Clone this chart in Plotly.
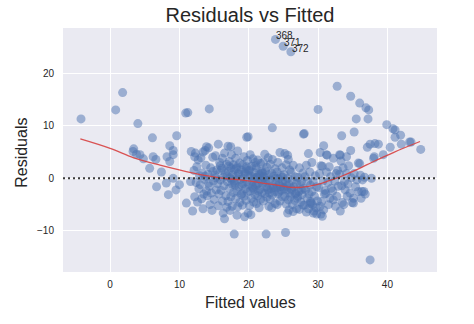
import plotly.graph_objects as go

# ---- data ----
# left tail (low fitted values)
fitted_left = [-4.2, 0.8, 1.8, 4.0, 3.4, 3.8, 4.8, 3.3, 4.3, 6.1, 6.2, 6.6, 5.7, 7.4, 6.7, 8.1, 8.4,
               8.6, 9.1, 8.2, 9.6, 9.5, 10.0, 9.1, 11.0, 10.9, 11.2, 11.7, 12.2, 11.6, 14.3, 13.9, 13.7,
               8.6, 9.1]
resid_left = [11.3, 13.0, 16.3, 10.4, 5.6, 4.6, 3.7, 5.1, 4.5, 7.7, 4.1, 3.6, 1.9, 1.2, -1.6, -0.9, -3.1,
              6.2, 5.3, 4.1, 8.1, -2.2, -1.2, 0.0, -4.7, 12.4, 12.5, 5.1, 4.1, -0.6, 13.2, 6.0, 5.3,
              3.2, 4.5]

# main cloud
fitted_core = [
    12.3, 12.7, 12.1, 12.9, 12.4, 12.8, 12.2, 12.6, 11.9, 12.5,
    13.4, 13.1, 13.8, 13.3, 13.6, 13.0, 13.9, 13.5, 13.2, 13.4, 13.7,
    14.2, 14.8, 14.5, 14.1, 14.9, 14.3, 14.6, 14.0, 14.4, 14.7, 14.8, 14.2,
    15.6, 15.2, 15.8, 15.4, 15.1, 15.9, 15.5, 15.3, 15.7, 15.0, 15.6, 15.2, 15.9,
    16.5, 16.2, 16.8, 16.1, 16.6, 16.3, 16.9, 16.4, 16.0, 16.7, 16.2, 16.8, 16.3, 16.5, 16.9, 16.0,
    17.0, 17.5, 17.2, 17.8, 17.4, 17.1, 17.7, 17.3, 17.9, 17.6, 17.2, 17.8, 17.4, 17.0, 17.6, 17.3, 17.9, 17.5, 17.1,
    18.4, 18.1, 18.7, 18.3, 18.9, 18.5, 18.2, 18.8, 18.0, 18.6, 18.3, 18.9, 18.1, 18.7, 18.4, 18.3, 17.9, 18.6, 18.0, 18.2,
    19.3, 19.8, 19.1, 19.6, 19.4, 19.9, 19.2, 19.7, 19.0, 19.5, 19.8, 19.3, 19.6, 19.1, 19.9, 19.4, 19.5, 19.2, 19.7, 19.0,
    20.2, 20.6, 20.9, 20.4, 20.1, 20.7, 20.3, 20.8, 20.5, 20.0, 20.6, 20.2, 20.9, 20.4, 20.7, 20.1, 20.3, 20.8, 20.5, 20.0, 20.7,
    21.3, 21.7, 21.1, 21.9, 21.5, 21.2, 21.8, 21.4, 21.0, 21.6, 21.9, 21.3, 21.7, 21.1, 21.5, 21.8, 21.2, 21.6, 21.4, 21.0,
    22.3, 22.8, 22.1, 22.6, 22.4, 22.9, 22.2, 22.7, 22.0, 22.5, 22.8, 22.3, 22.6, 22.1, 22.9, 22.5, 22.4, 22.7, 22.0, 22.2,
    23.4, 23.1, 23.8, 23.3, 23.6, 23.0, 23.9, 23.5, 23.2, 23.7, 23.4, 23.1, 23.8, 23.3, 23.6, 23.9, 23.0, 23.4,
    24.5, 24.2, 24.8, 24.1, 24.6, 24.3, 24.9, 24.4, 24.0, 24.7, 24.2, 24.8, 24.5, 24.1, 24.6, 24.3, 24.9,
    25.2, 25.7, 25.4, 25.9, 25.1, 25.6, 25.3, 25.8, 25.0, 25.5, 25.9, 25.2, 25.7, 25.4, 25.8, 25.6, 25.3, 25.1, 25.5, 25.6,
    26.4, 26.1, 26.7, 26.3, 26.9, 26.5, 26.2, 26.8, 26.0, 26.6, 26.3, 26.9, 26.4, 26.7, 26.1,
    27.3, 27.8, 27.1, 27.6, 27.4, 27.9, 27.2, 27.7, 27.0, 27.5, 27.8, 27.3, 27.6, 27.1,
    28.6, 28.3, 28.8, 28.1, 28.5, 28.9, 28.2, 28.7, 28.4, 28.9, 28.0, 28.6, 28.3, 28.8,
    29.1, 29.6, 29.3, 29.8, 29.1, 29.5, 29.9, 29.2, 29.7, 29.4, 29.8, 29.0, 29.3,
    30.8, 30.3, 30.4, 30.6, 30.2, 30.7, 30.1, 30.9, 30.5, 30.3, 30.8, 30.4, 30.6,
    31.3, 31.6, 31.2, 31.8, 31.4, 31.9, 31.1, 31.7, 31.5, 31.0, 31.2,
    32.6, 32.2, 32.8, 32.4, 32.9, 32.1, 32.7, 32.2, 32.5,
    33.2, 33.3, 33.6, 33.1, 33.8, 33.4, 33.9, 33.2, 33.5, 33.7, 33.1,
    34.7, 34.4, 34.1, 34.8, 34.3, 34.6, 34.9, 34.2, 34.1,
    35.2, 35.6, 35.4, 35.8, 35.1, 35.1,
    36.1, 36.0, 36.4, 36.2, 36.6, 36.8, 36.3,
]
resid_core = [
    4.8, 3.5, 1.5, 0.5, -0.8, -2.0, -3.5, -4.5, -6.2, 2.2,
    5.0, 3.9, 2.5, 1.0, -0.2, -1.2, -2.4, -3.0, -3.9, -5.8, 0.4,
    5.8, 4.0, 2.0, 0.8, -0.5, -1.5, -2.8, -3.3, -5.0, -6.1, 1.3, -0.9,
    6.5, 4.3, 3.0, 1.6, 0.6, -0.3, -1.0, -2.2, -3.0, -4.0, -5.2, 0.1, 2.4,
    4.8, 3.8, 2.7, 1.9, 1.0, 0.2, -0.6, -1.4, -2.3, -3.3, -4.3, -5.5, -6.6, -7.7, 0.5, 1.5,
    6.1, 4.5, 3.2, 2.6, 2.0, 1.3, 0.7, 0.1, -0.5, -1.1, -1.9, -2.7, -3.5, -4.4, -5.3, -6.1, 1.7, -0.2, 2.3,
    5.2, 3.8, 2.9, 2.2, 1.6, 1.0, 0.4, -0.2, -0.9, -1.6, -2.4, -3.1, -3.9, -4.6, -5.4, -7.0, -10.6, 0.8, -1.3, 1.9,
    4.1, 3.4, 2.6, 1.8, 1.2, 0.6, 0.0, -0.7, -1.3, -2.0, -2.6, -3.4, -4.2, -5.1, -6.6, -7.3, 0.9, -1.0, 2.2, -2.9,
    4.5, 3.7, 3.0, 2.3, 1.6, 1.1, 0.5, -0.1, -0.6, -1.2, -1.8, -2.4, -3.1, -3.8, -4.5, -5.2, -6.9, 0.2, -1.5, 1.4, -2.1,
    3.5, 2.8, 2.0, 1.3, 0.8, 0.2, -0.4, -0.9, -1.5, -2.1, -2.7, -3.3, -4.0, -4.8, -5.6, 1.0, -1.2, 0.5, -2.4, 2.4,
    4.6, 3.9, 3.0, 2.1, 1.4, 0.7, 0.1, -0.4, -1.0, -1.6, -2.2, -2.9, -3.6, -4.3, -5.3, -10.6, -0.7, -1.9, 1.0, 0.3,
    3.6, 2.7, 1.8, 1.0, 0.4, -0.3, -0.9, -1.4, -2.0, -2.5, -3.2, -4.0, -4.8, -5.6, -1.7, 0.0, -2.8, 9.6,
    4.9, 3.0, 2.0, 1.2, 0.5, -0.1, -0.6, -1.2, -1.8, -2.3, -2.9, -3.5, -4.3, -5.0, -1.5, -2.6, 0.2,
    4.7, 3.6, 2.6, 1.6, 0.7, 0.0, -0.6, -1.1, -1.7, -2.2, -2.8, -3.4, -4.1, -4.9, -6.0, -6.6, -10.3, -2.0, -1.4, 4.4,
    2.5, 1.2, 0.3, -0.4, -1.0, -1.6, -2.2, -2.8, -3.5, -4.2, -5.0, -5.8, -6.3, -3.0, -1.9,
    2.0, 1.0, 0.2, -0.6, -1.2, -1.9, -2.5, -3.1, -3.8, -4.5, -5.1, -5.9, -2.2, -3.4,
    4.7, 2.5, 1.2, 0.3, -0.5, -1.3, -2.2, -3.0, -3.8, -4.4, -5.1, -5.8, -6.4, -4.8,
    3.0, 0.5, -0.6, -1.6, -2.5, -3.4, -4.3, -5.0, -5.6, -6.2, -6.8, -4.7, -6.6,
    6.2, 4.9, 2.4, 2.3, 0.9, -0.5, -1.8, -3.0, -4.4, -5.3, -6.0, -6.8, -7.2,
    4.4, 2.2, 1.2, 0.3, -0.8, -1.9, -2.9, -3.8, -5.0, -2.3, 4.5,
    0.9, 3.8, 1.5, -0.5, -1.5, -2.4, -3.4, -4.1, -5.3,
    4.4, 3.3, 2.0, 0.8, -0.6, -1.4, -2.2, -6.2, -4.6, -5.0, 4.5,
    5.3, 2.4, 0.9, 0.1, -1.1, -2.8, -4.6, -3.4, 4.1,
    0.9, -0.3, -1.6, -2.5, -3.8, -4.7,
    0.6, 2.8, -0.3, -3.8, -2.5, -3.0, -2.5,
]

# upper / right scattered points
fitted_right = [19.7, 19.9, 27.9, 28.0, 17.4, 30.0, 32.75, 34.7, 36.0, 36.9, 37.3, 35.5, 37.2, 39.9,
                40.8, 41.1, 41.9, 41.1, 33.4, 35.2, 43.2, 43.4, 42.0, 40.4, 44.8, 38.7, 38.2, 37.5,
                37.1, 39.4, 38.0, 35.8, 37.7, 36.7, 37.5, 38.1]
resid_right = [7.8, 7.9, 8.4, 8.5, 6.0, 13.1, 17.5, 15.6, 14.3, 13.4, 13.0, 11.3, 11.3, 10.2,
               9.4, 9.2, 8.2, 7.8, 8.1, 8.8, 6.9, 6.9, 6.5, 5.9, 5.5, 6.5, 6.6, 6.5,
               5.9, 4.5, 3.8, 2.9, 0.0, 0.2, -15.5, 4.1]

# labelled outliers
label_text = ["368", "371", "372"]
label_fitted = [23.85, 24.96, 26.07]
label_resid = [26.4, 25.1, 24.06]

# lowess smoothing curve
lowess_fitted = [-4.3, 0.0, 3.4, 7.2, 12.0, 16.4, 18.8, 21.6, 24.0, 26.0, 27.5, 29.8, 31.5, 33.2, 35.5, 38.0, 41.0, 44.7]
lowess_resid = [7.5, 5.7, 3.9, 2.5, 1.0, 0.0, -0.3, -0.8, -1.3, -1.7, -1.7, -1.2, -0.5, 0.3, 1.6, 3.2, 5.0, 7.0]

x_ticks = [0, 10, 20, 30, 40]
y_ticks = [-10, 0, 10, 20]

assert len(fitted_left) == len(resid_left)
assert len(fitted_core) == len(resid_core)
assert len(fitted_right) == len(resid_right)

fitted = fitted_left + fitted_core + fitted_right + label_fitted
residuals = resid_left + resid_core + resid_right + label_resid

TXT = "#262626"
FONT = "Liberation Sans, Arial, sans-serif"

fig = go.Figure()
fig.add_trace(go.Scatter(
    x=fitted, y=residuals, mode="markers",
    marker=dict(size=9, color="#4C72B0", opacity=0.5, line=dict(width=0)),
    hoverinfo="skip", showlegend=False,
))
fig.add_trace(go.Scatter(
    x=lowess_fitted, y=lowess_resid, mode="lines", line_shape="spline",
    line=dict(color="rgba(215,65,65,0.9)", width=1.3),
    hoverinfo="skip", showlegend=False,
))

fig.add_shape(type="line", xref="paper", x0=0, x1=1, yref="y", y0=0, y1=0,
              line=dict(color="#3a3a3a", width=2, dash="2px,3px"), layer="above")

for t, fx, ry in zip(label_text, label_fitted, label_resid):
    fig.add_annotation(x=fx, y=ry, text=t, showarrow=False, xanchor="left", yanchor="bottom",
                       yshift=-4, xshift=-1, font=dict(family=FONT, size=10, color=TXT))

fig.add_annotation(text="Fitted values", xref="paper", yref="paper", x=0.5, y=-0.123,
                   xanchor="center", yanchor="middle", showarrow=False,
                   font=dict(family=FONT, size=16, color=TXT))
fig.add_annotation(text="Residuals", xref="paper", yref="paper", x=-0.11, y=0.488,
                   xanchor="center", yanchor="middle", showarrow=False, textangle=-90,
                   font=dict(family=FONT, size=16, color=TXT))

fig.update_layout(
    width=474, height=324,
    margin=dict(l=63, r=37, t=28, b=52),
    paper_bgcolor="white", plot_bgcolor="#EAEAF2",
    title=dict(text="Residuals vs Fitted", x=0.5, xref="paper", xanchor="center",
               y=1 - 15 / 324, yref="container", yanchor="middle",
               font=dict(family=FONT, size=20, color=TXT)),
    font=dict(family=FONT, color=TXT),
    xaxis=dict(range=[-6.8, 47.15], tickvals=x_ticks, showgrid=True, gridcolor="white",
               gridwidth=1.3, zeroline=False, showline=False, ticks="",
               ticklabelstandoff=5, tickfont=dict(size=10, color=TXT)),
    yaxis=dict(range=[-17.8, 28.57], tickvals=y_ticks, showgrid=True, gridcolor="white",
               gridwidth=1.3, zeroline=False, showline=False, ticks="",
               ticklabelstandoff=8, tickfont=dict(size=10, color=TXT)),
)

fig.write_html("out.html")
